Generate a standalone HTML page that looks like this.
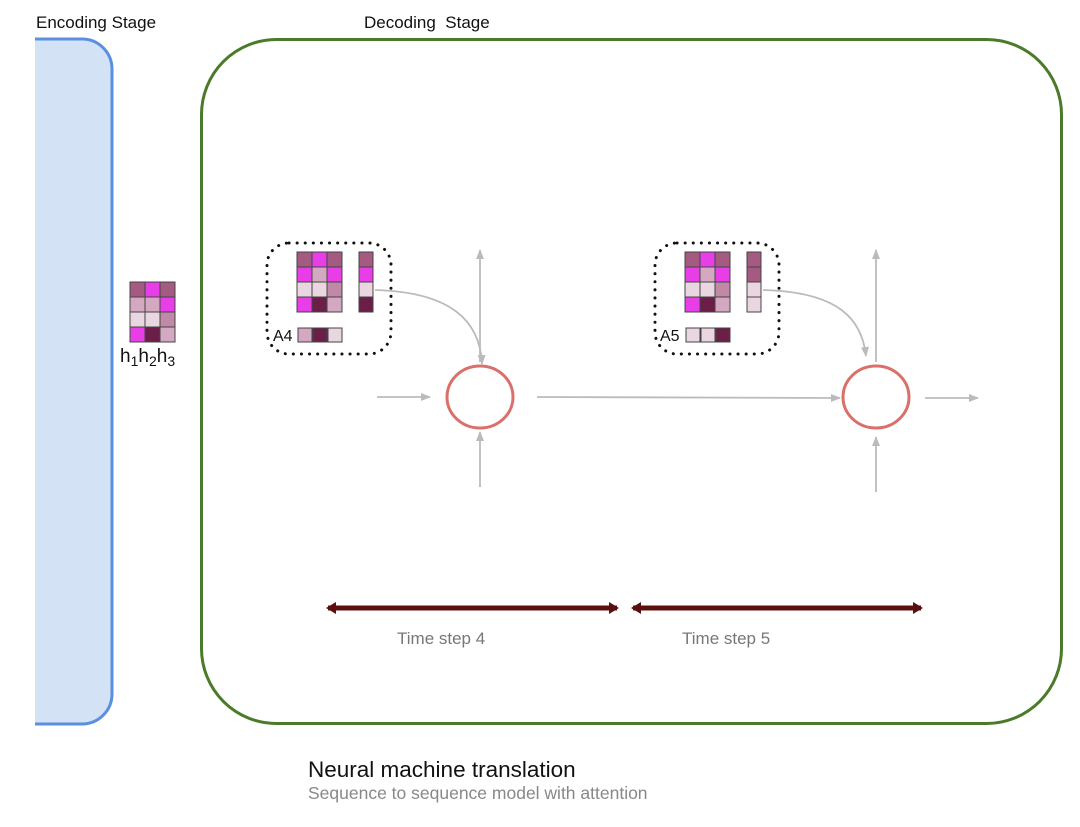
<!DOCTYPE html>
<html><head><style>body{margin:0;background:#fff}svg{display:block}text{font-family:"Liberation Sans",sans-serif}</style></head>
<body>
<svg width="1080" height="827" viewBox="0 0 1080 827">
<defs>
<marker id="g" markerWidth="10" markerHeight="8" refX="9" refY="4" orient="auto" markerUnits="userSpaceOnUse"><path d="M0,0 L10,4 L0,8 z" fill="#bbb"/></marker>
<marker id="r" markerWidth="10" markerHeight="12" refX="8" refY="6" orient="auto-start-reverse" markerUnits="userSpaceOnUse"><path d="M0,0 L10,6 L0,12 z" fill="#5c0f0f"/></marker>
</defs>
<text x="36" y="28" font-size="17" fill="#111">Encoding Stage</text>
<text x="364" y="28" font-size="17" fill="#111">Decoding&#160; Stage</text>
<path d="M35,39 H82 A30,30 0 0 1 112,69 V694 A30,30 0 0 1 82,724 H35 Z" fill="#d3e2f4"/>
<path d="M35,39 H82 A30,30 0 0 1 112,69 V694 A30,30 0 0 1 82,724 H35" fill="none" stroke="#5b8fe0" stroke-width="3"/>
<rect x="201.5" y="39.5" width="860" height="684" rx="75" fill="none" stroke="#4a7a2a" stroke-width="3"/>
<g stroke="#444" stroke-width="1">
<rect x="130" y="282" width="15" height="15" fill="#a55a82"/><rect x="145" y="282" width="15" height="15" fill="#e83ee8"/><rect x="160" y="282" width="15" height="15" fill="#a55a82"/>
<rect x="130" y="297" width="15" height="15" fill="#d4a8c0"/><rect x="145" y="297" width="15" height="15" fill="#d4a8c0"/><rect x="160" y="297" width="15" height="15" fill="#e83ee8"/>
<rect x="130" y="312" width="15" height="15" fill="#ead6e0"/><rect x="145" y="312" width="15" height="15" fill="#ead6e0"/><rect x="160" y="312" width="15" height="15" fill="#c089a8"/>
<rect x="130" y="327" width="15" height="15" fill="#e83ee8"/><rect x="145" y="327" width="15" height="15" fill="#6b1f48"/><rect x="160" y="327" width="15" height="15" fill="#d4a8c0"/>
<rect x="297" y="252" width="15" height="15" fill="#a55a82"/><rect x="312" y="252" width="15" height="15" fill="#e83ee8"/><rect x="327" y="252" width="15" height="15" fill="#a55a82"/>
<rect x="297" y="267" width="15" height="15" fill="#e83ee8"/><rect x="312" y="267" width="15" height="15" fill="#d4a8c0"/><rect x="327" y="267" width="15" height="15" fill="#e83ee8"/>
<rect x="297" y="282" width="15" height="15" fill="#ead6e0"/><rect x="312" y="282" width="15" height="15" fill="#ead6e0"/><rect x="327" y="282" width="15" height="15" fill="#c089a8"/>
<rect x="297" y="297" width="15" height="15" fill="#e83ee8"/><rect x="312" y="297" width="15" height="15" fill="#6b1f48"/><rect x="327" y="297" width="15" height="15" fill="#d4a8c0"/>
<rect x="359" y="252" width="14" height="15" fill="#a55a82"/><rect x="359" y="267" width="14" height="15" fill="#e83ee8"/><rect x="359" y="282" width="14" height="15" fill="#ead6e0"/><rect x="359" y="297" width="14" height="15" fill="#6b1f48"/>
<rect x="298" y="328" width="14" height="14" fill="#d4a8c0"/><rect x="313" y="328" width="14" height="14" fill="#6b1f48"/><rect x="328" y="328" width="14" height="14" fill="#ead6e0"/>
<rect x="685" y="252" width="15" height="15" fill="#a55a82"/><rect x="700" y="252" width="15" height="15" fill="#e83ee8"/><rect x="715" y="252" width="15" height="15" fill="#a55a82"/>
<rect x="685" y="267" width="15" height="15" fill="#e83ee8"/><rect x="700" y="267" width="15" height="15" fill="#d4a8c0"/><rect x="715" y="267" width="15" height="15" fill="#e83ee8"/>
<rect x="685" y="282" width="15" height="15" fill="#ead6e0"/><rect x="700" y="282" width="15" height="15" fill="#ead6e0"/><rect x="715" y="282" width="15" height="15" fill="#c089a8"/>
<rect x="685" y="297" width="15" height="15" fill="#e83ee8"/><rect x="700" y="297" width="15" height="15" fill="#6b1f48"/><rect x="715" y="297" width="15" height="15" fill="#d4a8c0"/>
<rect x="747" y="252" width="14" height="15" fill="#a55a82"/><rect x="747" y="267" width="14" height="15" fill="#a55a82"/><rect x="747" y="282" width="14" height="15" fill="#ead6e0"/><rect x="747" y="297" width="14" height="15" fill="#ead6e0"/>
<rect x="686" y="328" width="14" height="14" fill="#ead6e0"/><rect x="701" y="328" width="14" height="14" fill="#ead6e0"/><rect x="716" y="328" width="14" height="14" fill="#6b1f48"/>
</g>
<text x="120" y="362" font-size="19" fill="#111">h<tspan font-size="14" dy="4">1</tspan><tspan dy="-4">h</tspan><tspan font-size="14" dy="4">2</tspan><tspan dy="-4">h</tspan><tspan font-size="14" dy="4">3</tspan></text>
<text x="273" y="341" font-size="16" fill="#111">A4</text>
<text x="660" y="341" font-size="16" fill="#111">A5</text>
<rect x="267" y="243" width="124" height="111" rx="22" fill="none" stroke="#111" stroke-width="3" stroke-dasharray="0.1 8" stroke-linecap="round"/>
<rect x="655" y="243" width="124" height="111" rx="22" fill="none" stroke="#111" stroke-width="3" stroke-dasharray="0.1 8" stroke-linecap="round"/>
<g stroke="#bbb" stroke-width="1.8" fill="none" marker-end="url(#g)">
<line x1="377" y1="397" x2="430" y2="397"/>
<line x1="537" y1="397" x2="840" y2="398"/>
<line x1="925" y1="398" x2="978" y2="398"/>
<line x1="480" y1="362" x2="480" y2="250"/>
<line x1="876" y1="362" x2="876" y2="250"/>
<line x1="480" y1="487" x2="480" y2="432"/>
<line x1="876" y1="492" x2="876" y2="437"/>
<path d="M375,290 C450,292 480,320 482,364"/>
<path d="M763,290 C840,292 862,320 866,356"/>
</g>
<ellipse cx="480" cy="397" rx="33" ry="31" fill="none" stroke="#d9706a" stroke-width="3"/>
<ellipse cx="876" cy="397" rx="33" ry="31" fill="none" stroke="#d9706a" stroke-width="3"/>
<g stroke="#5c0f0f" stroke-width="5" marker-start="url(#r)" marker-end="url(#r)">
<line x1="328" y1="608" x2="617" y2="608"/>
<line x1="633" y1="608" x2="921" y2="608"/>
</g>
<text x="397" y="644" font-size="17" fill="#777">Time step 4</text>
<text x="682" y="644" font-size="17" fill="#777">Time step 5</text>
<text x="308" y="777" font-size="22.5" fill="#111">Neural machine translation</text>
<text x="308" y="799" font-size="17.5" fill="#888">Sequence to sequence model with attention</text>
</svg>
</body></html>
